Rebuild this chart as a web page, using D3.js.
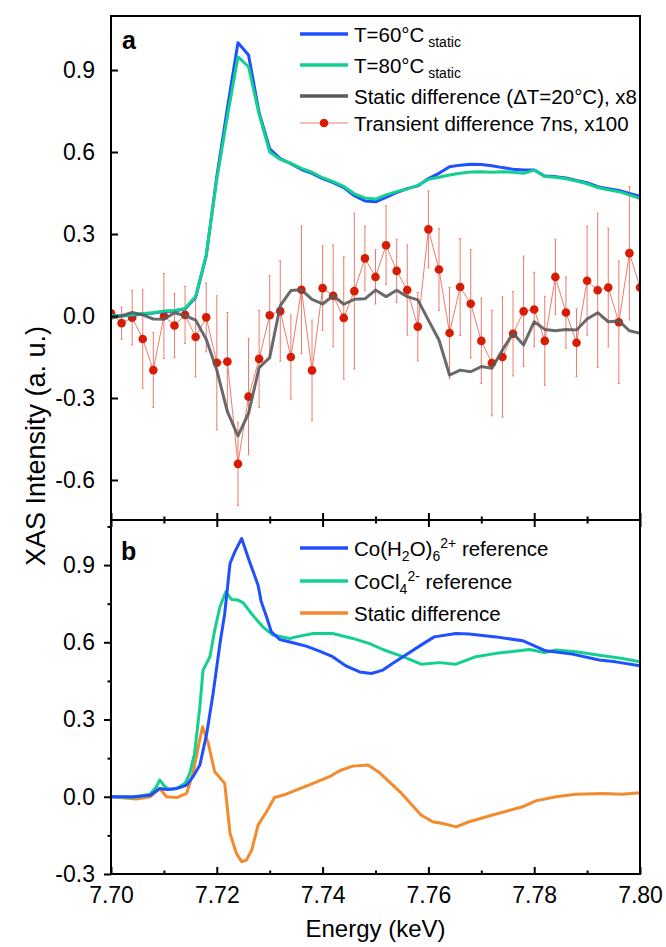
<!DOCTYPE html>
<html>
<head>
<meta charset="utf-8">
<script src="https://cdn.jsdelivr.net/npm/d3@7"></script>
<style>
  body { margin: 0; background: #fff; }
  svg { display: block; font-family: "Liberation Sans", Arial, sans-serif; }
</style>
</head>
<body>
<div id="chart"></div>
<script>
// ---- panel a: measured spectra (keV grid, 2 eV steps) ----
const energyA = [7.700, 7.702, 7.704, 7.706, 7.708, 7.710, 7.712, 7.714, 7.716, 7.718,
  7.720, 7.722, 7.724, 7.726, 7.728, 7.730, 7.732, 7.734, 7.736, 7.738,
  7.740, 7.742, 7.744, 7.746, 7.748, 7.750, 7.752, 7.754, 7.756, 7.758,
  7.760, 7.762, 7.764, 7.766, 7.768, 7.770, 7.772, 7.774, 7.776, 7.778,
  7.780, 7.782, 7.784, 7.786, 7.788, 7.790, 7.792, 7.794, 7.796, 7.798, 7.800];

const static60 = [0.000, 0.000, 0.003, 0.007, 0.011, 0.016, 0.018, 0.026, 0.068, 0.220,
  0.510, 0.760, 1.000, 0.955, 0.744, 0.612, 0.576, 0.557, 0.536, 0.522,
  0.503, 0.488, 0.470, 0.440, 0.421, 0.418, 0.434, 0.452, 0.466, 0.476,
  0.503, 0.522, 0.546, 0.552, 0.555, 0.554, 0.550, 0.543, 0.537, 0.534,
  0.534, 0.512, 0.510, 0.505, 0.496, 0.488, 0.473, 0.466, 0.459, 0.448, 0.438];

const static80 = [0.002, 0.001, 0.005, 0.009, 0.012, 0.018, 0.020, 0.028, 0.071, 0.223,
  0.500, 0.730, 0.948, 0.912, 0.738, 0.600, 0.573, 0.559, 0.540, 0.526,
  0.506, 0.492, 0.474, 0.447, 0.432, 0.428, 0.443, 0.455, 0.465, 0.478,
  0.500, 0.508, 0.516, 0.522, 0.527, 0.528, 0.526, 0.528, 0.526, 0.522,
  0.534, 0.510, 0.508, 0.502, 0.494, 0.484, 0.470, 0.462, 0.455, 0.443, 0.430];

const staticDiffX8 = [-0.008, 0.001, 0.013, 0.004, -0.011, -0.012, 0.012, 0.001, -0.015, -0.085,
  -0.198, -0.350, -0.439, -0.356, -0.189, -0.152, 0.038, 0.093, 0.096, 0.061,
  0.044, 0.074, 0.043, 0.061, 0.063, 0.095, 0.071, 0.094, 0.071, 0.059,
  -0.015, -0.088, -0.216, -0.198, -0.204, -0.185, -0.191, -0.124, -0.063, -0.106,
  -0.021, -0.049, -0.054, -0.049, -0.051, -0.011, 0.012, -0.021, -0.018, -0.054, -0.063];

const transient7ns = [0.010, -0.026, -0.006, -0.084, -0.198, 0.000, -0.035, 0.004, -0.077, -0.005,
  -0.171, -0.167, -0.541, -0.295, -0.157, 0.003, 0.018, -0.150, 0.096, -0.199,
  0.102, 0.074, -0.007, 0.091, 0.211, 0.143, 0.259, 0.165, 0.095, -0.039,
  0.317, 0.170, -0.062, 0.106, 0.045, -0.091, -0.172, -0.150, -0.065, 0.017,
  0.024, -0.091, 0.143, 0.013, -0.098, 0.129, 0.094, 0.104, -0.023, 0.230, 0.104];

const transientErr = [0.050, 0.059, 0.100, 0.180, 0.137, 0.155, 0.117, 0.104, 0.146, 0.126,
  0.245, 0.180, 0.152, 0.213, 0.177, 0.144, 0.184, 0.154, 0.233, 0.184,
  0.155, 0.186, 0.224, 0.285, 0.118, 0.099, 0.144, 0.116, 0.165, 0.125,
  0.141, 0.149, 0.166, 0.177, 0.198, 0.156, 0.193, 0.220, 0.154, 0.202,
  0.136, 0.163, 0.138, 0.130, 0.124, 0.199, 0.282, 0.217, 0.224, 0.244, 0.200];

// ---- panel b: references ----
const hexaE = [7.7000, 7.7042, 7.7074, 7.7092, 7.7105, 7.7124, 7.7143, 7.7155, 7.7168, 7.7181,
  7.7193, 7.7206, 7.7215, 7.7225, 7.7234, 7.7247, 7.7262, 7.7278, 7.7284, 7.7294,
  7.7303, 7.7319, 7.7344, 7.7369, 7.7394, 7.7419, 7.7445, 7.7470, 7.7492, 7.7514,
  7.7530, 7.7552, 7.7586, 7.7611, 7.7652, 7.7677, 7.7728, 7.7778, 7.7822, 7.7872,
  7.7923, 7.7954, 7.8000];
const hexaV = [0.000, 0.000, 0.006, 0.032, 0.028, 0.032, 0.045, 0.078, 0.123, 0.246,
  0.401, 0.595, 0.712, 0.906, 0.951, 1.003, 0.913, 0.822, 0.757, 0.699,
  0.641, 0.611, 0.598, 0.585, 0.566, 0.544, 0.507, 0.485, 0.479, 0.492,
  0.515, 0.544, 0.589, 0.621, 0.634, 0.632, 0.621, 0.606, 0.567, 0.554,
  0.531, 0.524, 0.509];

const tetraE = [7.7000, 7.7042, 7.7074, 7.7086, 7.7092, 7.7102, 7.7111, 7.7124, 7.7140, 7.7149,
  7.7158, 7.7168, 7.7174, 7.7187, 7.7196, 7.7206, 7.7217, 7.7228, 7.7240, 7.7250,
  7.7268, 7.7287, 7.7306, 7.7338, 7.7350, 7.7382, 7.7419, 7.7457, 7.7489, 7.7514,
  7.7530, 7.7552, 7.7586, 7.7621, 7.7652, 7.7690, 7.7728, 7.7791, 7.7819, 7.7841,
  7.7879, 7.7923, 7.7967, 7.8000];
const tetraV = [0.000, -0.003, 0.010, 0.039, 0.065, 0.039, 0.028, 0.032, 0.052, 0.091,
  0.168, 0.350, 0.492, 0.544, 0.647, 0.738, 0.796, 0.766, 0.764, 0.753,
  0.705, 0.660, 0.628, 0.615, 0.621, 0.634, 0.634, 0.615, 0.595, 0.572,
  0.560, 0.544, 0.515, 0.521, 0.515, 0.544, 0.557, 0.572, 0.560, 0.570,
  0.563, 0.550, 0.537, 0.524];

const diffE = [7.7000, 7.7048, 7.7074, 7.7092, 7.7105, 7.7124, 7.7143, 7.7155, 7.7165, 7.7173,
  7.7184, 7.7196, 7.7215, 7.7225, 7.7237, 7.7247, 7.7256, 7.7266, 7.7278, 7.7294,
  7.7309, 7.7331, 7.7357, 7.7382, 7.7413, 7.7432, 7.7457, 7.7486, 7.7508, 7.7526,
  7.7548, 7.7586, 7.7608, 7.7627, 7.7652, 7.7677, 7.7728, 7.7778, 7.7803, 7.7841,
  7.7879, 7.7929, 7.7967, 7.8000];
const diffV = [0.000, -0.009, 0.000, 0.032, 0.000, -0.003, 0.013, 0.091, 0.194, 0.272,
  0.207, 0.097, 0.052, -0.142, -0.220, -0.252, -0.246, -0.207, -0.110, -0.058,
  -0.003, 0.010, 0.032, 0.052, 0.078, 0.101, 0.119, 0.123, 0.093, 0.058,
  0.016, -0.071, -0.097, -0.104, -0.117, -0.097, -0.067, -0.039, -0.016, 0.000,
  0.010, 0.013, 0.010, 0.016];

// ---- ticks ----
const xMajor = [7.70, 7.72, 7.74, 7.76, 7.78, 7.80];
const xMinor = [7.71, 7.73, 7.75, 7.77, 7.79];
const yTicksA = [-0.6, -0.3, 0.0, 0.3, 0.6, 0.9];
const yTicksB = [-0.3, 0.0, 0.3, 0.6, 0.9];
const yMinorB = [-0.15, 0.15, 0.45, 0.75, 1.05];

const C = {
  blue: '#1f50ff', green: '#14d08e', gray: '#5a5a5a',
  red: '#d81c04', redLine: '#f07a6c', orange: '#f38a2e'
};

const W = 666, H = 947;
const left = 111, right = 640, topA = 16, mid = 520, bottom = 874;

const svg = d3.select('#chart').append('svg')
  .attr('width', W).attr('height', H);

const x = d3.scaleLinear().domain([7.70, 7.80]).range([left, right]);
const yA = d3.scaleLinear().domain([-0.7464, 1.0977]).range([mid, topA]);
const yB = d3.scaleLinear().domain([-0.3, 1.075]).range([bottom, mid]);

// clip paths for each panel
const defs = svg.append('defs');
defs.append('clipPath').attr('id', 'clipA').append('rect')
  .attr('x', left).attr('y', topA).attr('width', right - left).attr('height', mid - topA);
defs.append('clipPath').attr('id', 'clipB').append('rect')
  .attr('x', left).attr('y', mid).attr('width', right - left).attr('height', bottom - mid);

// ---------- panel a ----------
const gA = svg.append('g').attr('clip-path', 'url(#clipA)');
const ptsA = energyA.map((e, i) => ({ e, t60: static60[i], t80: static80[i],
  sd: staticDiffX8[i], tr: transient7ns[i], err: transientErr[i] }));

// transient: thin line, error bars, dots
gA.append('path')
  .datum(ptsA)
  .attr('fill', 'none').attr('stroke', C.redLine).attr('stroke-width', 1)
  .attr('d', d3.line().x(d => x(d.e)).y(d => yA(d.tr)));

gA.selectAll('.err').data(ptsA).join('line')
  .attr('class', 'err')
  .attr('x1', d => x(d.e)).attr('x2', d => x(d.e))
  .attr('y1', d => yA(d.tr - d.err)).attr('y2', d => yA(d.tr + d.err))
  .attr('stroke', C.redLine).attr('stroke-width', 1);

['lo', 'hi'].forEach(k => {
  gA.selectAll('.cap-' + k).data(ptsA).join('line')
    .attr('class', 'cap-' + k)
    .attr('x1', d => x(d.e) - 1).attr('x2', d => x(d.e) + 1)
    .attr('y1', d => yA(k === 'lo' ? d.tr - d.err : d.tr + d.err))
    .attr('y2', d => yA(k === 'lo' ? d.tr - d.err : d.tr + d.err))
    .attr('stroke', C.redLine).attr('stroke-width', 1);
});

gA.selectAll('.dot').data(ptsA).join('circle')
  .attr('class', 'dot')
  .attr('cx', d => x(d.e)).attr('cy', d => yA(d.tr))
  .attr('r', 4.3).attr('fill', C.red);

// static spectra
const lineA = key => d3.line().x(d => x(d.e)).y(d => yA(d[key]));
gA.append('path').datum(ptsA)
  .attr('fill', 'none').attr('stroke', C.blue).attr('stroke-width', 3)
  .attr('stroke-linejoin', 'round').attr('d', lineA('t60'));
gA.append('path').datum(ptsA)
  .attr('fill', 'none').attr('stroke', C.green).attr('stroke-width', 3)
  .attr('stroke-linejoin', 'round').attr('d', lineA('t80'));
gA.append('path').datum(ptsA)
  .attr('fill', 'none').attr('stroke', C.gray).attr('stroke-width', 3)
  .attr('stroke-opacity', 0.9)
  .attr('stroke-linejoin', 'round').attr('d', lineA('sd'));

// ---------- panel b ----------
const gB = svg.append('g').attr('clip-path', 'url(#clipB)');
const seriesB = [
  { e: diffE, v: diffV, color: C.orange },
  { e: tetraE, v: tetraV, color: C.green },
  { e: hexaE, v: hexaV, color: C.blue }
];
seriesB.forEach(s => {
  gB.append('path')
    .datum(s.e.map((e, i) => [e, s.v[i]]))
    .attr('fill', 'none').attr('stroke', s.color).attr('stroke-width', 3)
    .attr('stroke-linejoin', 'round')
    .attr('d', d3.line().x(d => x(d[0])).y(d => yB(d[1])));
});

// ---------- axes ----------
const styleAxis = ax => {
  ax.select('.domain').remove();
  ax.selectAll('line').attr('stroke', '#000').attr('stroke-width', 2);
  ax.selectAll('text').attr('fill', '#000').attr('font-size', '23px')
    .attr('font-family', '"Liberation Sans", Arial, sans-serif');
};
const fmt = d => d.toFixed(1);

// panel a y axis: ticks inward
svg.append('g').attr('transform', `translate(${left},0)`)
  .call(d3.axisLeft(yA).tickValues(yTicksA).tickSize(-7).tickPadding(16).tickFormat(fmt))
  .call(styleAxis);

// panel b y axis: ticks outward, with minors
svg.append('g').attr('transform', `translate(${left},0)`)
  .call(d3.axisLeft(yB).tickValues(yTicksB).tickSize(7).tickPadding(9).tickFormat(fmt))
  .call(styleAxis);
svg.append('g').attr('transform', `translate(${left},0)`)
  .call(d3.axisLeft(yB).tickValues(yMinorB).tickSize(3.5).tickFormat(''))
  .call(styleAxis);

// bottom x axis: ticks inward (up)
svg.append('g').attr('transform', `translate(0,${bottom})`)
  .call(d3.axisBottom(x).tickValues(xMajor).tickSize(-7).tickPadding(13).tickFormat(d => d.toFixed(2)))
  .call(styleAxis);
svg.append('g').attr('transform', `translate(0,${bottom})`)
  .call(d3.axisBottom(x).tickValues(xMinor).tickSize(-3.5).tickFormat(''))
  .call(styleAxis);

// divider: ticks up into a and down into b
[[-7, xMajor], [-3.5, xMinor], [7, xMajor], [3.5, xMinor]].forEach(([s, vals]) => {
  svg.append('g').attr('transform', `translate(0,${mid})`)
    .call(d3.axisBottom(x).tickValues(vals).tickSize(s).tickFormat(''))
    .call(styleAxis);
});

// frame
const frame = svg.append('g').attr('stroke', '#000').attr('stroke-width', 2)
  .attr('fill', 'none');
frame.append('rect').attr('x', left).attr('y', topA)
  .attr('width', right - left).attr('height', bottom - topA);
frame.append('line').attr('x1', left).attr('x2', right).attr('y1', mid).attr('y2', mid);

// ---------- labels ----------
svg.append('text')
  .attr('transform', 'translate(45,446) rotate(-90)')
  .attr('text-anchor', 'middle')
  .attr('font-size', '27px')
  .text('XAS Intensity (a. u.)');

svg.append('text')
  .attr('x', (left + right) / 2).attr('y', 937)
  .attr('text-anchor', 'middle').attr('font-size', '24px')
  .text('Energy (keV)');

svg.append('text').attr('x', 122).attr('y', 49)
  .attr('font-size', '25px').attr('font-weight', 'bold').text('a');
svg.append('text').attr('x', 121).attr('y', 560)
  .attr('font-size', '25px').attr('font-weight', 'bold').text('b');

// ---------- legends ----------
const legX0 = 300, legX1 = 348, legTx = 354, legFs = 20.5;

function legendText(y, parts) {
  const t = svg.append('text').attr('x', legTx).attr('y', y + 8)
    .attr('font-size', legFs + 'px');
  parts.forEach(p => {
    const ts = t.append('tspan').text(p.s);
    if (p.fs) ts.attr('font-size', p.fs + 'px');
    if (p.dy) ts.attr('dy', p.dy);
  });
}
function legendLine(y, color, width) {
  svg.append('line').attr('x1', legX0).attr('x2', legX1)
    .attr('y1', y).attr('y2', y)
    .attr('stroke', color).attr('stroke-width', width);
}

const rowsA = [34, 65, 96, 123];
legendLine(rowsA[0], C.blue, 3.5);
legendText(rowsA[0], [{ s: 'T=60°C' }, { s: ' static', fs: 14, dy: 5 }]);
legendLine(rowsA[1], C.green, 3.5);
legendText(rowsA[1], [{ s: 'T=80°C' }, { s: ' static', fs: 14, dy: 5 }]);
legendLine(rowsA[2], C.gray, 3.5);
legendText(rowsA[2], [{ s: 'Static difference (ΔT=20°C), x8' }]);
legendLine(rowsA[3], C.redLine, 1);
svg.append('circle').attr('cx', (legX0 + legX1) / 2).attr('cy', rowsA[3])
  .attr('r', 4.3).attr('fill', C.red);
legendText(rowsA[3], [{ s: 'Transient difference 7ns, x100' }]);

const rowsB = [548, 581, 613];
legendLine(rowsB[0], C.blue, 3.5);
legendText(rowsB[0], [{ s: 'Co(H' }, { s: '2', fs: 14, dy: 5 }, { s: 'O)', dy: -5 },
  { s: '6', fs: 14, dy: 5 }, { s: '2+', fs: 14, dy: -13 }, { s: ' reference', dy: 8 }]);
legendLine(rowsB[1], C.green, 3.5);
legendText(rowsB[1], [{ s: 'CoCl' }, { s: '4', fs: 14, dy: 5 }, { s: '2-', fs: 14, dy: -13 },
  { s: '  reference', dy: 8 }]);
legendLine(rowsB[2], C.orange, 3.5);
legendText(rowsB[2], [{ s: 'Static difference' }]);
</script>
</body>
</html>
